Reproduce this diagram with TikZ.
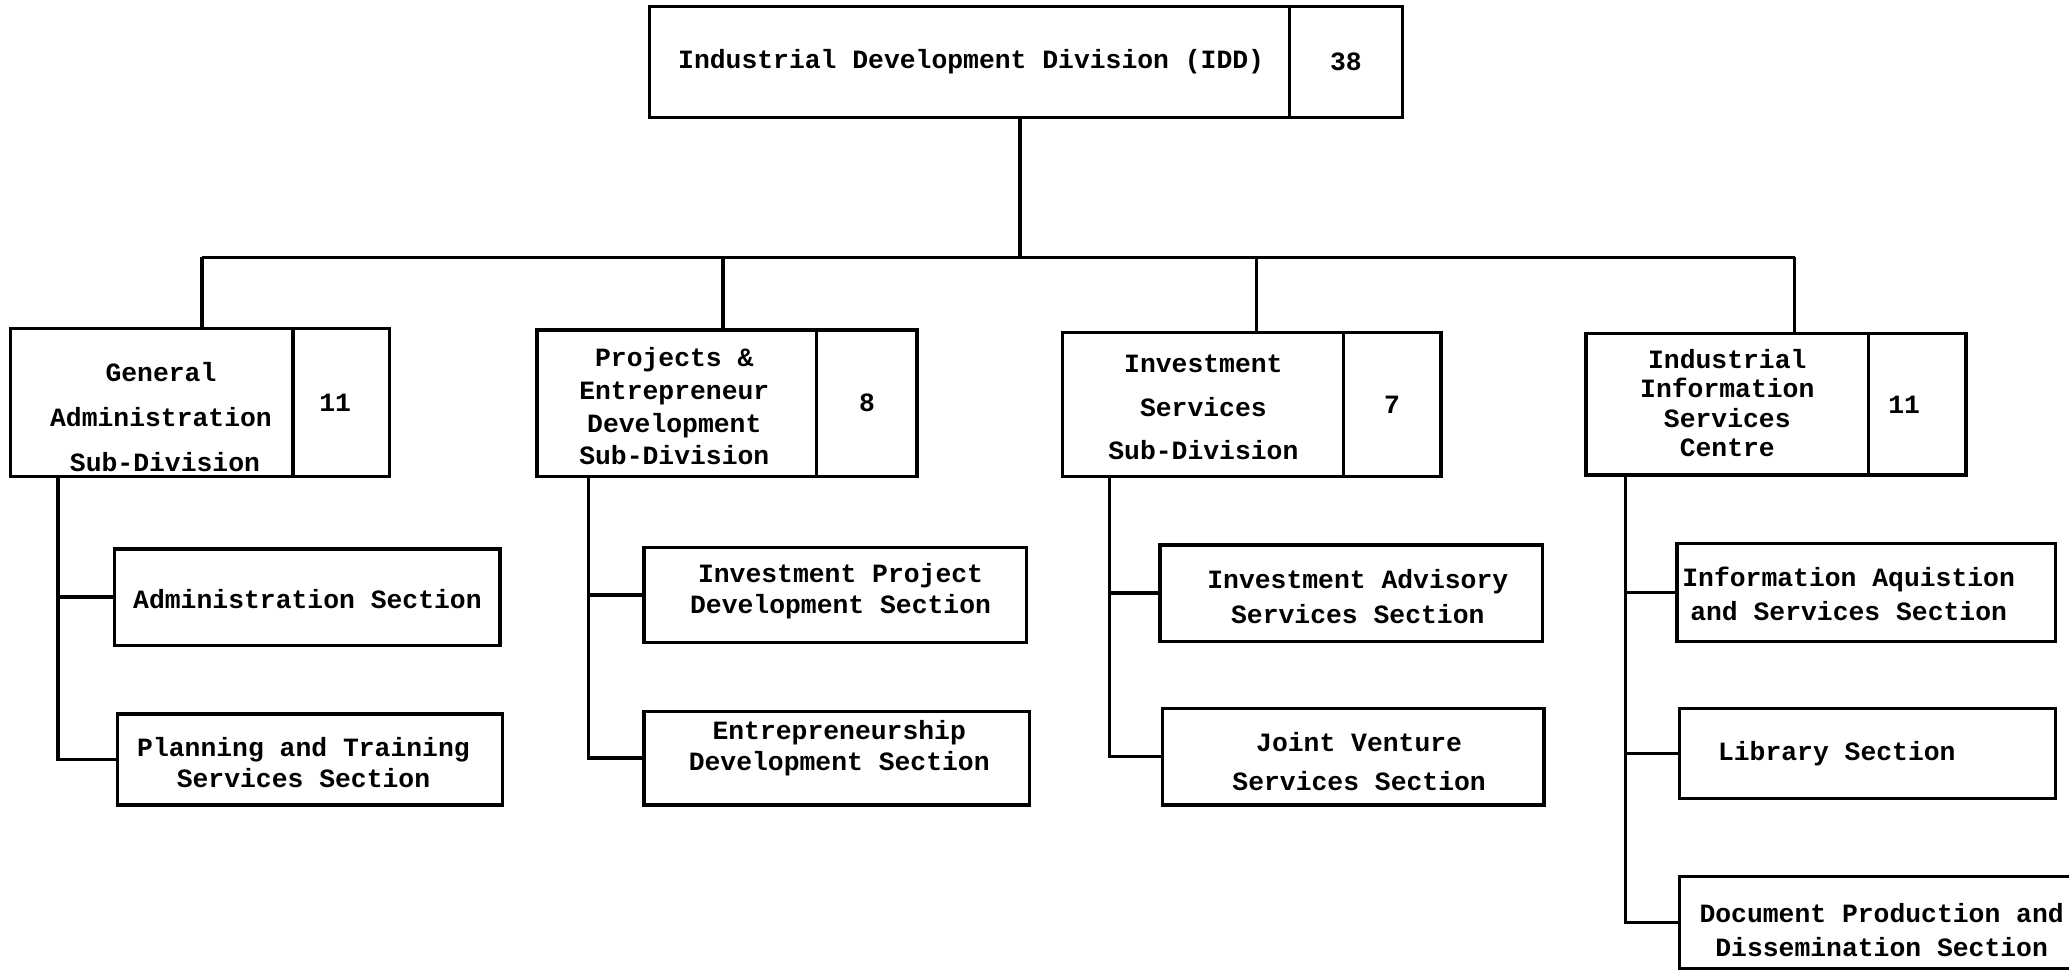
\documentclass[tikz,border=0pt]{standalone}
\usepackage{fontspec}
\setmonofont{Liberation Mono}
\newcommand\fs[1]{\fontsize{20}{#1}\selectfont\ttfamily\bfseries}
\tikzset{
  box/.style={draw, line width=2.5pt, rectangle, inner sep=0pt, outer sep=0pt},
  txt/.style={align=center, inner sep=0pt, font=\fs{24}},
  conn/.style={line width=2.5pt},
}
\begin{document}
\begin{tikzpicture}[x=1pt,y=-1pt]
\useasboundingbox (0,0) rectangle (1568,736);
\clip (0,0) rectangle (1568,736);
\fill[white] (0,0) rectangle (1568,736);

% top
\node[box, minimum width=571, minimum height=84] (top) at (777.5,47) {};
\node[box, minimum width=86, minimum height=84, font=\fs{24}] (topn) at (1020,47) {38};
\node[txt] (topt) at (736,47) {Industrial Development Division (IDD)};

% level 2
\node[box, minimum width=287, minimum height=112] (ga) at (151.5,305) {};
\node[box, minimum width=73, minimum height=112, font=\fs{24}] (gan) at (258.5,305) {11\hspace*{9pt}};
\node[txt, font=\fs{34}] (gat) at (122,316) {General\\Administration\\\hspace*{6pt}Sub-Division};

\node[box, minimum width=288, minimum height=111] (pe) at (551,305.5) {};
\node[box, minimum width=76, minimum height=111, font=\fs{24}] (pen) at (657,305.5) {8};
\node[txt, font=\fs{24.7}] (pet) at (511,308) {Projects \&\\Entrepreneur\\Development\\Sub-Division};

\node[box, minimum width=287, minimum height=109] (is) at (948.5,306.5) {};
\node[box, minimum width=74, minimum height=109, font=\fs{24}] (isn) at (1055,306.5) {7};
\node[txt, font=\fs{33}] (ist) at (912,309) {Investment\\Services\\Sub-Division};

\node[box, minimum width=288, minimum height=107] (iis) at (1346,306.5) {};
\node[box, minimum width=74, minimum height=107, font=\fs{24}] (iisn) at (1453,306.5) {11\hspace*{20pt}};
\node[txt, font=\fs{22.3}] (iist) at (1309,305.5) {Industrial\\Information\\Services\\Centre};

% level 3
\node[box, minimum width=292, minimum height=73] (adm) at (233,452.5) {};
\node[txt] (admt) at (233,454) {Administration Section};
\node[box, minimum width=292, minimum height=69] (plan) at (235,575.5) {};
\node[txt, font=\fs{24}] (plant) at (230,578) {Planning and Training\\Services Section};

\node[box, minimum width=290, minimum height=72] (ipd) at (633,451) {};
\node[txt, font=\fs{23}] (ipdt) at (637,448) {Investment Project\\Development Section};
\node[box, minimum width=292, minimum height=71] (ent) at (634,574.5) {};
\node[txt, font=\fs{23}] (entt) at (636,567) {Entrepreneurship\\Development Section};

\node[box, minimum width=290, minimum height=73] (ias) at (1024,449.5) {};
\node[txt, font=\fs{26}] (iast) at (1029,452) {Investment Advisory\\Services Section};
\node[box, minimum width=289, minimum height=73] (jv) at (1025.5,573.5) {};
\node[txt, font=\fs{30}] (jvt) at (1030,577) {Joint Venture\\Services Section};

\node[box, minimum width=287, minimum height=74] (iaq) at (1414.5,449) {};
\node[txt, font=\fs{26}] (iaqt) at (1401,450) {Information Aquistion\\and Services Section};
\node[box, minimum width=285, minimum height=68] (lib) at (1415.5,571) {};
\node[txt] (libt) at (1392,571) {Library Section};
\node[box, minimum width=330, minimum height=70] (doc) at (1438,699) {};
\node[txt, font=\fs{26}] (doct) at (1426,705) {Document Production and\\Dissemination Section};

% connectors
\coordinate (hub) at (773,195);
\coordinate (t1) at (153,195);
\coordinate (t2) at (548,195);
\coordinate (t3) at (952,195);
\coordinate (t4) at (1360,195);
\draw[conn] (hub |- top.south) -- (hub);
\draw[conn] (t1) -- (t4);
\draw[conn] (t1) -- (t1 |- ga.north);
\draw[conn] (t2) -- (t2 |- pe.north);
\draw[conn] (t3) -- (t3 |- is.north);
\draw[conn] (t4) -- (t4 |- iis.north);

\coordinate (s1) at (44,361);
\coordinate (s2) at (446,361);
\coordinate (s3) at (841,361);
\coordinate (s4) at (1232,361);
\draw[conn] (s1 |- ga.south) |- (plan.west);
\draw[conn] (s1 |- adm.west) -- (adm.west);
\draw[conn] (s2 |- pe.south) |- (ent.west);
\draw[conn] (s2 |- ipd.west) -- (ipd.west);
\draw[conn] (s3 |- is.south) |- (jv.west);
\draw[conn] (s3 |- ias.west) -- (ias.west);
\draw[conn] (s4 |- iis.south) |- (doc.west);
\draw[conn] (s4 |- iaq.west) -- (iaq.west);
\draw[conn] (s4 |- lib.west) -- (lib.west);
\end{tikzpicture}
\end{document}
